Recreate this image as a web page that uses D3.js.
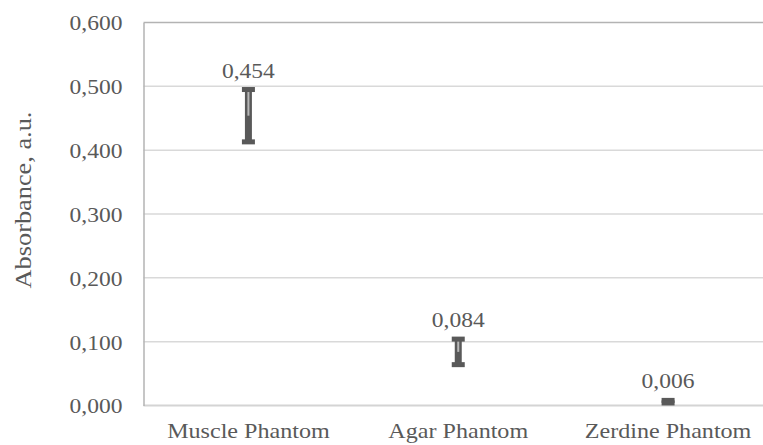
<!DOCTYPE html>
<html>
<head>
<meta charset="utf-8">
<script src="https://cdn.jsdelivr.net/npm/d3@7"></script>
</head>
<body style="margin:0">
<script>
var width = 763,
	height = 445;

// data
var categories = ['Muscle Phantom', 'Agar Phantom', 'Zerdine Phantom'];
var means = [0.454, 0.084, 0.006];
var errors = [0.041, 0.020, 0.002];
var yTicks = [0, 0.1, 0.2, 0.3, 0.4, 0.5, 0.6];

var FONT = "'Liberation Serif'";
var STRETCH = 1.12;

var margin = {left: 143.5, top: 22.5, right: -10, bottom: 39.5};

var svg = d3.select('body').append('svg')
	.attr('width', width)
	.attr('height', height)
	.attr('font-family', 'Liberation Serif')
	.style('font-family', FONT);

var x = d3.scaleBand()
	.domain(categories)
	.range([margin.left, width - margin.right]);

var y = d3.scaleLinear()
	.domain([0, 0.6])
	.range([height - margin.bottom, margin.top]);

var fmt = function(v) { return d3.format('.3f')(v).replace('.', ','); };

// set the serif face on a label and widen it a little like the reference
function serif(sel, size) {
	sel.attr('font-family', 'Liberation Serif')
		.style('font-family', FONT)
		.style('font-size', size + 'px')
		.style('fill', '#595959')
		.each(function() {
			var w = this.getComputedTextLength();
			d3.select(this)
				.attr('textLength', w * STRETCH)
				.attr('lengthAdjust', 'spacingAndGlyphs');
		});
}

// gridlines
svg.append('g')
	.selectAll('line')
	.data(yTicks.filter(function(d) { return d > 0 && d < 0.6; }))
	.enter()
	.append('line')
	.attr('x1', margin.left)
	.attr('x2', width)
	.attr('y1', function(d) { return y(d); })
	.attr('y2', function(d) { return y(d); })
	.style('stroke', '#d9d9d9')
	.style('stroke-width', 1.5);

// top border
svg.append('line')
	.attr('x1', margin.left).attr('x2', width)
	.attr('y1', y(0.6)).attr('y2', y(0.6))
	.style('stroke', '#b3b3b3')
	.style('stroke-width', 1.5);

// bottom axis line
svg.append('line')
	.attr('x1', margin.left).attr('x2', width)
	.attr('y1', y(0)).attr('y2', y(0))
	.style('stroke', '#d4d4d4')
	.style('stroke-width', 2);

// left axis
var yAxis = svg.append('g')
	.attr('transform', 'translate(' + margin.left + ',0)')
	.call(d3.axisLeft(y).tickValues(yTicks).tickFormat(fmt).tickSize(0).tickPadding(21));
yAxis.attr('font-family', 'Liberation Serif').attr('font-size', null);
yAxis.select('.domain')
	.style('stroke', '#b3b3b3')
	.style('stroke-width', 1.5);
yAxis.selectAll('text')
	.attr('dy', '0.35em')
	.call(serif, 21);

// category labels
var xAxis = svg.append('g')
	.attr('transform', 'translate(0,' + y(0) + ')')
	.call(d3.axisBottom(x).tickSize(0).tickPadding(0));
xAxis.attr('font-family', 'Liberation Serif').attr('font-size', null);
xAxis.select('.domain').remove();
xAxis.selectAll('text')
	.attr('y', 32)
	.attr('dy', 0)
	.call(serif, 21.5);

// y title
svg.append('text')
	.attr('transform', 'translate(31,' + (y(0.3) - 14) + ') rotate(-90)')
	.attr('text-anchor', 'middle')
	.text('Absorbance, a.u.')
	.call(serif, 23.5);

// error bars
var marks = svg.append('g')
	.selectAll('g.err')
	.data(categories)
	.enter()
	.append('g')
	.classed('err', true);

var cx = function(d) { return x(d) + x.bandwidth() / 2; };

marks.append('line')
	.attr('x1', cx).attr('x2', cx)
	.attr('y1', function(d, i) { return y(means[i] + errors[i]); })
	.attr('y2', function(d, i) { return y(means[i] - errors[i]); })
	.style('stroke', '#595959')
	.style('stroke-width', 7);

marks.append('line')
	.attr('x1', cx).attr('x2', cx)
	.attr('y1', function(d, i) { return y(means[i] + errors[i]); })
	.attr('y2', function(d, i) { return y(means[i]); })
	.style('stroke', '#b8b8b8')
	.style('stroke-width', 2);

[1, -1].forEach(function(s) {
	marks.append('rect')
		.attr('x', function(d) { return cx(d) - 6.5; })
		.attr('y', function(d, i) { return y(means[i] + s * errors[i]) - 2.5; })
		.attr('width', 13)
		.attr('height', 5)
		.style('fill', '#595959');
});

// value labels
marks.append('text')
	.attr('x', cx)
	.attr('y', function(d, i) { return y(means[i] + errors[i]) - 12; })
	.attr('text-anchor', 'middle')
	.text(function(d, i) { return fmt(means[i]); })
	.call(serif, 21);
</script>
</body>
</html>
